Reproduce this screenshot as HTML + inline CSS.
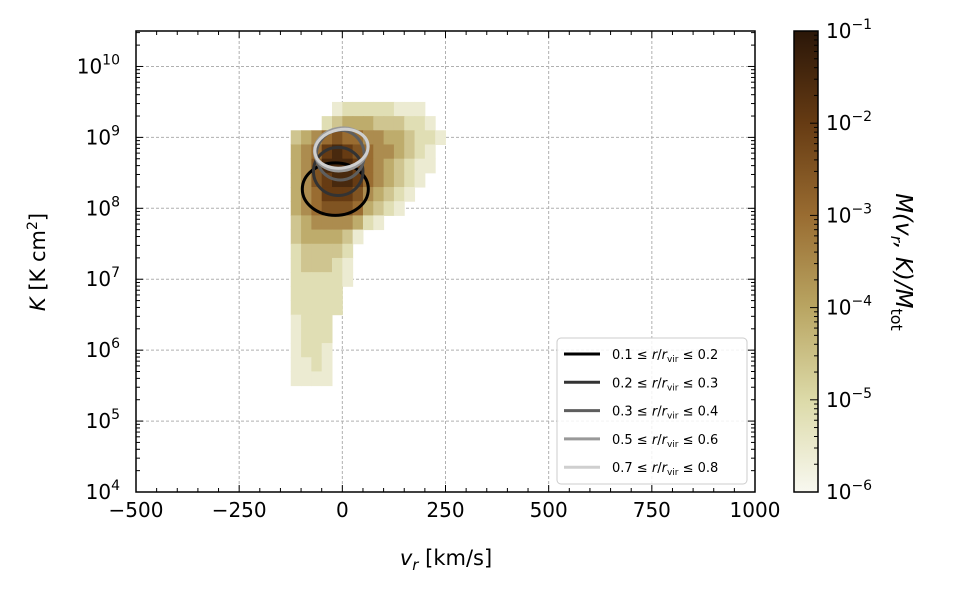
<!DOCTYPE html>
<html><head><meta charset="utf-8"><style>
body{margin:0;background:#fff;}
svg text{font-family:"DejaVu Sans","Liberation Sans",sans-serif;fill:#000;}
</style></head><body>
<svg id="chart" width="954" height="593" viewBox="0 0 954 593" xmlns="http://www.w3.org/2000/svg">
<defs>
<linearGradient id="cmap" x1="0" y1="1" x2="0" y2="0">
<stop offset="0" stop-color="#f8f8f0"/><stop offset="0.2" stop-color="#dcdaa8"/>
<stop offset="0.4" stop-color="#b9a562"/><stop offset="0.6" stop-color="#996c31"/>
<stop offset="0.8" stop-color="#663b13"/><stop offset="1" stop-color="#2a1608"/>
</linearGradient>
<clipPath id="plotclip"><rect x="136" y="31" width="619" height="461"/></clipPath>
</defs>
<g id="grid"></g>
<g id="heat" clip-path="url(#plotclip)"></g>
<g id="contours"></g>
<g id="axes"></g>
<text x="446" y="565" font-size="21" text-anchor="middle"><tspan font-style="italic">v</tspan><tspan font-style="italic" font-size="15" dy="5">r</tspan><tspan dy="-5"> [km/s]</tspan></text>
<text transform="translate(45,262) rotate(-90)" font-size="21" text-anchor="middle"><tspan font-style="italic">K</tspan> [K cm<tspan font-size="14" dy="-8">2</tspan><tspan dy="8">]</tspan></text>
<g>
<rect x="557" y="338" width="190" height="146" rx="4" fill="#fff" fill-opacity="0.85" stroke="#ccc"/>
<g id="legend-items"></g>
</g>
<rect x="794" y="31" width="24" height="461" fill="url(#cmap)" stroke="#000" stroke-width="1.5"/>
<g id="cbar"></g>
<text transform="translate(896,262) rotate(90)" font-size="23" text-anchor="middle" font-style="italic">M(v<tspan font-size="16" dy="5">r</tspan><tspan dy="-5">, K)/M</tspan><tspan font-size="16" dy="5" font-style="normal">tot</tspan></text>
</svg>
<script>
const xTicks=[-500,-250,0,250,500,750,1000];
const yDecades=[4,5,6,7,8,9,10];
const cbDecades=[-6,-5,-4,-3,-2,-1];
const heatCols=[-150,-125,-100,-75,-50,-25,0,25,50,75,100,125,150,175,200,225];
const heatRows=[9.3,9.1,8.9,8.7,8.5,8.3,8.1,7.9,7.7,7.5,7.3,7.1,6.9,6.7,6.5,6.3,6.1,5.9,5.7,5.5];
const heatDigits=[
"0000012222211100",
"0000234443332210",
"0345676655443221",
"0456898765543210",
"0457999865432110",
"0457899865432100",
"0456888754321000",
"0456777643210000",
"0345555421000000",
"0344443100000000",
"0233332000000000",
"0233321000000000",
"0222221000000000",
"0222220000000000",
"0222220000000000",
"0122200000000000",
"0122200000000000",
"0122100000000000",
"0112100000000000",
"0111100000000000"];
const contourLabels=["0.1","0.2","0.3","0.5","0.7"];
const contourHi=["0.2","0.3","0.4","0.6","0.8"];
const contourColors=["#000","#333","#5e5e5e","#999","#cfcfcf"];
const contourCx=[-17,-10,-5,-3,-2];
const contourCy=[8.27,8.52,8.75,8.83,8.84];
const contourRx=[80,60,58,65,65];
const contourRy=[0.37,0.34,0.35,0.3,0.27];

const NS="http://www.w3.org/2000/svg";
const X0=136,X1=755,Y0=31,Y1=492;
const xs=v=>X0+(v+500)/1500*(X1-X0);
const ys=l=>Y1-(l-4)/6.5*(Y1-Y0);
const cs=l=>Y1-(l+6)/5*(Y1-Y0);
function mk(tag,attrs,parent){const e=document.createElementNS(NS,tag);for(const k in attrs)e.setAttribute(k,attrs[k]);parent.appendChild(e);return e;}
const stops=[[-6,[248,248,240]],[-5,[224,222,180]],[-4,[190,172,108]],[-3,[153,108,49]],[-2,[102,59,19]],[-1,[42,22,8]]];
function color(v){v=Math.max(-6,Math.min(-1,v));for(let i=0;i<5;i++){const a=stops[i],b=stops[i+1];if(v<=b[0]){const t=(v-a[0]);const c=a[1].map((x,j)=>Math.round(x+(b[1][j]-x)*t));return `rgb(${c})`;}}return 'rgb(42,22,8)';}
const grid=document.getElementById('grid'),heat=document.getElementById('heat'),axes=document.getElementById('axes');
xTicks.forEach(t=>{const g=mk('line',{x1:xs(t),x2:xs(t),y1:Y0,y2:Y1,stroke:'#b0b0b0','stroke-width':1,'stroke-dasharray':'3,2'},grid);});
yDecades.forEach(t=>{const g=mk('line',{x1:X0,x2:X1,y1:ys(t),y2:ys(t),stroke:'#b0b0b0','stroke-width':1,'stroke-dasharray':'3,2'},grid);});
heatRows.forEach((r,i)=>{heatCols.forEach((c,j)=>{const d=+heatDigits[i][j];if(!d)return;const v=-6+0.5*d;
const x=xs(c),w=xs(c+25)-x,y=ys(r+0.2),h=ys(r)-y;
const e=mk('rect',{x:x,y:y,width:w+0.5,height:h+0.5,fill:color(v)},heat);

});});
const cg=document.getElementById('contours');
contourColors.forEach((col,i)=>{const cx=xs(contourCx[i]),cy=ys(contourCy[i]);
const rx=xs(contourCx[i]+contourRx[i])-cx,ry=cy-ys(contourCy[i]+contourRy[i]);
const e=mk('ellipse',{cx:cx,cy:cy,rx:rx,ry:ry,fill:'none',stroke:col,'stroke-width':3,transform:`rotate(${i>=3?-10:0} ${cx} ${cy})`},cg);

});
const li=document.getElementById('legend-items');
contourColors.forEach((col,i)=>{const y=354+i*28.3;
const l=mk('line',{x1:564,x2:600,y1:y,y2:y,stroke:col,'stroke-width':3},li);


const t=mk('text',{x:612,y:y+5,'font-size':13},li);


t.innerHTML=`${contourLabels[i]} ≤ <tspan font-style="italic">r</tspan>/<tspan font-style="italic">r</tspan><tspan font-size="9" dy="3">vir</tspan><tspan dy="-3"> ≤ ${contourHi[i]}</tspan>`;});
mk('rect',{x:X0,y:Y0,width:X1-X0,height:Y1-Y0,fill:'none',stroke:'#000','stroke-width':1.5},axes);
for(let v=-500;v<=1000;v+=50){const x=xs(v),M=v%250===0,L=M?7:4;
mk('line',{x1:x,x2:x,y1:Y1,y2:Y1-L,stroke:'#000'},axes);mk('line',{x1:x,x2:x,y1:Y0,y2:Y0+L,stroke:'#000'},axes);}
xTicks.forEach(t=>{const e=mk('text',{x:xs(t),y:Y1+25,'font-size':20,'text-anchor':'middle'},axes);e.textContent=(t<0?'−'+(-t):t);
});
for(let d=4;d<=10;d++){for(let k=1;k<10;k++){const l=d+Math.log10(k);if(l>10.5)break;const y=ys(l),L=k===1?7:4;
mk('line',{x1:X0,x2:X0+L,y1:y,y2:y,stroke:'#000'},axes);mk('line',{x1:X1,x2:X1-L,y1:y,y2:y,stroke:'#000'},axes);}}
yDecades.forEach(t=>{const e=mk('text',{x:120,y:ys(t)+7,'font-size':20,'text-anchor':'end'},axes);
e.innerHTML=`10<tspan font-size="14" dy="-9">${t}</tspan>`;
});
const cb=document.getElementById('cbar');
for(let d=-6;d<=-1;d++){for(let k=1;k<10;k++){const l=d+Math.log10(k);if(l>-1)break;const y=cs(l),L=k===1?8:4;
mk('line',{x1:818,x2:818-L,y1:y,y2:y,stroke:'#000'},cb);}}
cbDecades.forEach(t=>{const e=mk('text',{x:826,y:cs(t)+7,'font-size':20},cb);
e.innerHTML=`10<tspan font-size="14" dy="-9">−${-t}</tspan>`;
});
</script>
</body></html>
